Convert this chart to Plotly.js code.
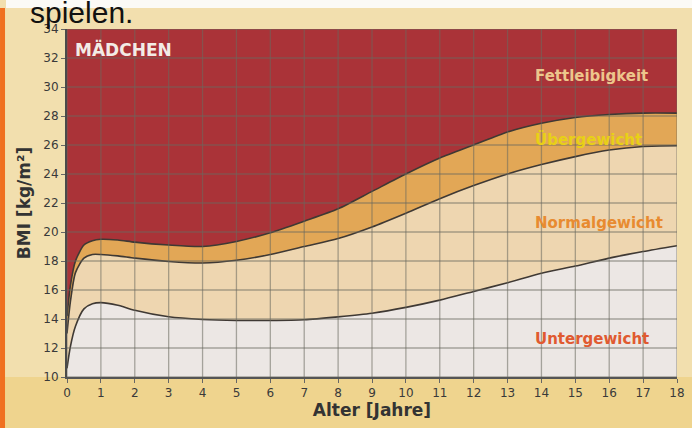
<!DOCTYPE html>
<html><head><meta charset="utf-8">
<script src="https://cdn.plot.ly/plotly-3.0.1.min.js"></script>
<style>html,body{margin:0;padding:0;background:#F2DFAE}</style>
</head><body><div id="chart" style="width:692px;height:428px"></div>
<script>
// Alter (Jahre)
const ages = [0, 0.1, 0.25, 0.5, 0.75, 1, 1.5, 2, 3, 4, 5, 6, 7, 8, 9, 10, 11, 12, 13, 14, 15, 16, 17, 18];
// Obere Grenze Übergewicht (Beginn Fettleibigkeit)
const p97 = [14.2, 16.3, 18.0, 19.1, 19.4, 19.5, 19.45, 19.3, 19.1, 19.0, 19.35, 19.95, 20.75, 21.6, 22.8, 24.0, 25.1, 26.0, 26.9, 27.5, 27.9, 28.1, 28.2, 28.2];
// Obere Grenze Normalgewicht (Beginn Übergewicht)
const p90 = [13.0, 15.2, 17.2, 18.2, 18.45, 18.45, 18.35, 18.2, 17.97, 17.86, 18.05, 18.45, 19.0, 19.55, 20.35, 21.3, 22.3, 23.2, 24.0, 24.65, 25.2, 25.65, 25.9, 25.95];
// Obere Grenze Untergewicht
const p10 = [10.6, 12.1, 13.5, 14.7, 15.05, 15.13, 14.95, 14.6, 14.15, 13.97, 13.9, 13.9, 13.95, 14.15, 14.4, 14.8, 15.3, 15.9, 16.5, 17.15, 17.65, 18.2, 18.65, 19.05];
const xTicks = [0,1,2,3,4,5,6,7,8,9,10,11,12,13,14,15,16,17,18];
const yTicks = [10,12,14,16,18,20,22,24,26,28,30,32,34];
const zoneNames = ['Fettleibigkeit', 'Übergewicht', 'Normalgewicht', 'Untergewicht'];

const lineStyle = {color:'#3f3934', width:1.6, shape:'spline', smoothing:0.7};
const traces = [
  {x:ages, y:p97, type:'scatter', mode:'lines', fill:'tozeroy', fillcolor:'#E2A756', line:lineStyle, name:zoneNames[1], hoverinfo:'skip'},
  {x:ages, y:p90, type:'scatter', mode:'lines', fill:'tozeroy', fillcolor:'#EED6B0', line:lineStyle, name:zoneNames[2], hoverinfo:'skip'},
  {x:ages, y:p10, type:'scatter', mode:'lines', fill:'tozeroy', fillcolor:'#ECE7E4', line:lineStyle, name:zoneNames[3], hoverinfo:'skip'}
];

const gridColor = 'rgba(105,105,95,0.55)';
const shapes = [];
xTicks.forEach(v => shapes.push({type:'line', xref:'x', yref:'y', x0:v, x1:v, y0:yTicks[0], y1:yTicks[yTicks.length-1], line:{color:gridColor, width:1.3}, layer:'above'}));
yTicks.forEach(v => shapes.push({type:'line', xref:'x', yref:'y', x0:xTicks[0], x1:xTicks[xTicks.length-1], y0:v, y1:v, line:{color:gridColor, width:1.3}, layer:'above'}));
// page decorations (scan background)
shapes.push({type:'rect', xref:'paper', yref:'paper', x0:-0.1, x1:1.03, y0:1.0603, y1:1.1, fillcolor:'#FBFAF6', line:{width:0}, layer:'below'});
shapes.push({type:'rect', xref:'paper', yref:'paper', x0:-0.1098, x1:1.0246, y0:-0.1466, y1:0, fillcolor:'#EFD48E', line:{width:0}, layer:'below'});
shapes.push({type:'rect', xref:'paper', yref:'paper', x0:-0.1098, x1:-0.1016, y0:-0.1466, y1:1.06, fillcolor:'#F07020', line:{width:0}, layer:'below'});

const labFont = (c) => ({family:'DejaVu Sans', size:15, color:c});
const annotations = [
  {xref:'paper', yref:'paper', x:-0.0639, y:1.047, xanchor:'left', yanchor:'middle', text:'spielen.', showarrow:false, font:{family:'Liberation Sans', size:30, color:'#111'}},
  {xref:'x', yref:'y', x:0.18, y:32.62, xanchor:'left', yanchor:'middle', text:'<b>MÄDCHEN</b>', showarrow:false, font:{family:'DejaVu Sans', size:17, color:'#F2ECE6'}},
  {xref:'x', yref:'y', x:13.75, y:30.73, xanchor:'left', yanchor:'middle', text:'<b>'+zoneNames[0]+'</b>', showarrow:false, font:labFont('#EDC68C')},
  {xref:'x', yref:'y', x:13.75, y:26.38, xanchor:'left', yanchor:'middle', text:'<b>'+zoneNames[1]+'</b>', showarrow:false, font:labFont('#E8D016')},
  {xref:'x', yref:'y', x:13.75, y:20.61, xanchor:'left', yanchor:'middle', text:'<b>'+zoneNames[2]+'</b>', showarrow:false, font:labFont('#E88B30')},
  {xref:'x', yref:'y', x:13.75, y:12.59, xanchor:'left', yanchor:'middle', text:'<b>'+zoneNames[3]+'</b>', showarrow:false, font:labFont('#E05A30')}
];

const tickFont = {family:'DejaVu Sans', size:12, color:'#3a3a3a'};
const layout = {
  width:692, height:428,
  margin:{l:67, r:15, t:29, b:51},
  paper_bgcolor:'#F2DFAE',
  plot_bgcolor:'#AA3338',
  showlegend:false,
  xaxis:{range:[0,18], tickvals:xTicks, showgrid:false, zeroline:false, showline:true, linecolor:'#555', linewidth:1.5,
         ticks:'outside', ticklen:4, tickcolor:'#666', tickfont:tickFont,
         title:{text:'<b>Alter [Jahre]</b>', font:{family:'DejaVu Sans', size:17, color:'#333'}, standoff:4}},
  yaxis:{range:[10,34], tickvals:yTicks, showgrid:false, zeroline:false, showline:true, linecolor:'#4a4a4a', linewidth:2,
         ticks:'outside', ticklen:4, tickcolor:'#666', tickfont:tickFont,
         title:{text:'<b>BMI [kg/m²]</b>', font:{family:'DejaVu Sans', size:17, color:'#333'}, standoff:8}},
  shapes:shapes,
  annotations:annotations
};
Plotly.newPlot('chart', traces, layout, {displayModeBar:false, staticPlot:true});
</script>
</body></html>
